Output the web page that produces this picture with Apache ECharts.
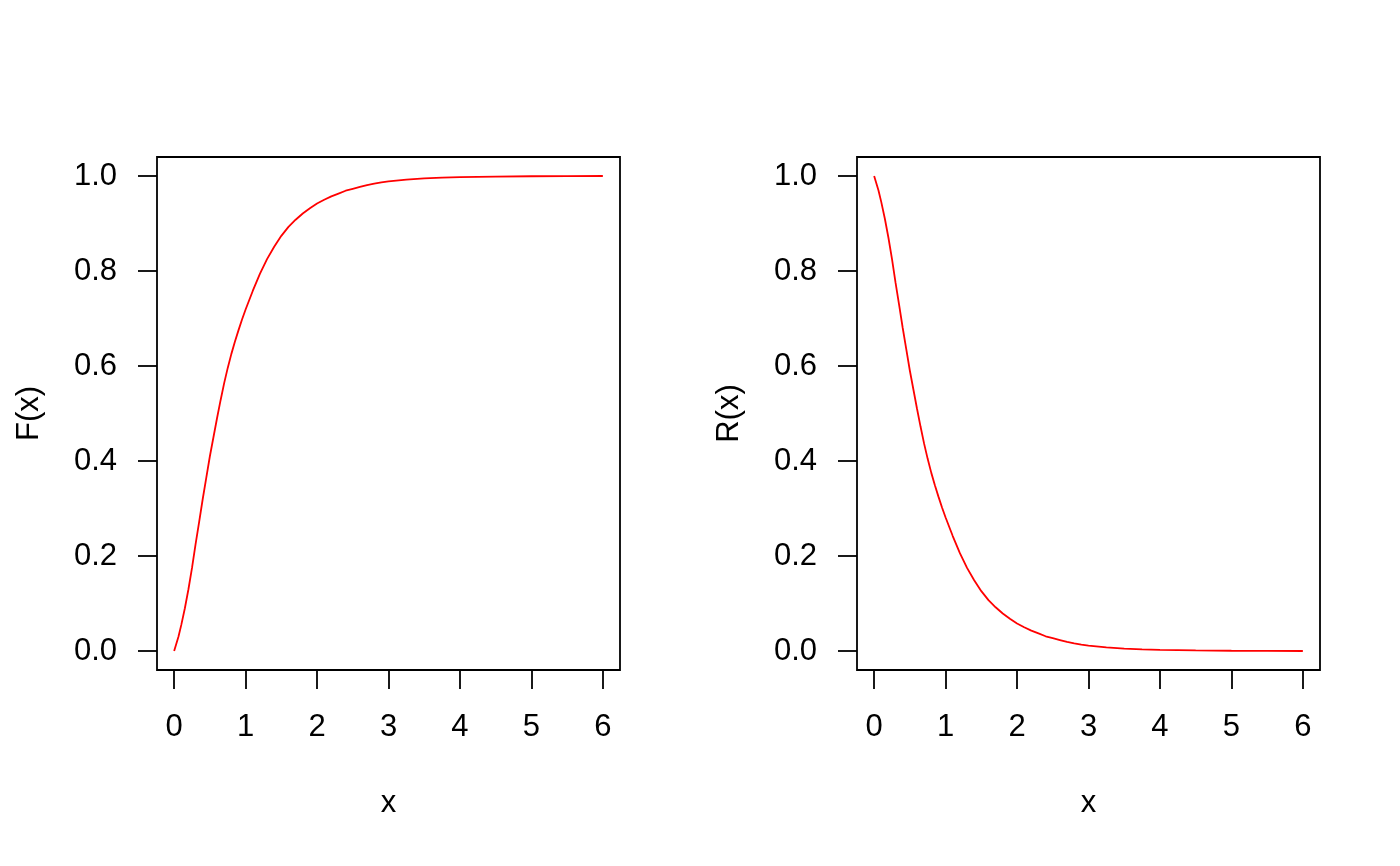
<!DOCTYPE html>
<html>
<head>
<meta charset="utf-8">
<script src="https://cdn.jsdelivr.net/npm/echarts@6/dist/echarts.min.js"></script>
<style>
html,body{margin:0;padding:0;background:#fff;}
#chart{width:1400px;height:866px;}
</style>
</head>
<body>
<div id="chart"></div>
<script>
// x positions
const xValues = [0, 0.06, 0.1, 0.15, 0.2, 0.25, 0.3, 0.35, 0.4, 0.45, 0.5, 0.55, 0.6, 0.65, 0.7, 0.75, 0.8, 0.85, 0.9, 0.95,
  1.0, 1.1, 1.2, 1.3, 1.4, 1.5, 1.6, 1.7, 1.8, 1.9, 2.0, 2.1, 2.2, 2.3, 2.4, 2.5, 2.6, 2.7, 2.8, 2.9,
  3.0, 3.25, 3.5, 3.75, 4.0, 4.5, 5.0, 5.5, 6.0];
// left panel: F(x)
const cdfValues = [0, 0.03, 0.055, 0.09, 0.13, 0.175, 0.225, 0.272, 0.32, 0.365, 0.41, 0.45, 0.49, 0.528, 0.564, 0.596, 0.625, 0.651, 0.675, 0.698,
  0.719, 0.758, 0.794, 0.825, 0.851, 0.874, 0.893, 0.908, 0.921, 0.932, 0.942, 0.95, 0.957, 0.963, 0.969, 0.973, 0.977, 0.981, 0.984, 0.9865,
  0.9885, 0.9925, 0.995, 0.9965, 0.9975, 0.9988, 0.9995, 0.9998, 1.0];
// right panel: R(x)
const relValues = [1, 0.97, 0.945, 0.91, 0.87, 0.825, 0.775, 0.728, 0.68, 0.635, 0.59, 0.55, 0.51, 0.472, 0.436, 0.404, 0.375, 0.349, 0.325, 0.302,
  0.281, 0.242, 0.206, 0.175, 0.149, 0.126, 0.107, 0.092, 0.079, 0.068, 0.058, 0.05, 0.043, 0.037, 0.031, 0.027, 0.023, 0.019, 0.016, 0.0135,
  0.0115, 0.0075, 0.005, 0.0035, 0.0025, 0.0012, 0.0005, 0.0002, 0.0];
const xTicks = [0, 1, 2, 3, 4, 5, 6];
const yTicks = [0, 0.2, 0.4, 0.6, 0.8, 1.0];
const xName = 'x';
const yNames = ['F(x)', 'R(x)'];

const FONT = '"Liberation Sans", Arial, Helvetica, sans-serif';
const FS = 31;

function pairs(xs, ys) { return xs.map((x, i) => [x, ys[i]]); }

const grids = [
  {left: 157, top: 157, width: 463, height: 513},
  {left: 857, top: 157, width: 463, height: 513}
].map(g => Object.assign({show: true, borderColor: '#000', borderWidth: 1.8, backgroundColor: 'transparent'}, g));

function xAxisFor(i) {
  return {
    type: 'value', gridIndex: i, min: -0.24, max: 6.24, position: 'bottom',
    splitLine: {show: false},
    axisLine: {show: false, onZero: false},
    axisTick: {show: true, customValues: xTicks, length: 19, inside: false, lineStyle: {color: '#000', width: 1.8}},
    axisLabel: {show: true, customValues: xTicks, margin: 42, color: '#000', fontFamily: FONT, fontSize: FS,
      formatter: v => String(Math.round(v))},
    name: xName, nameLocation: 'middle', nameGap: 118,
    nameTextStyle: {color: '#000', fontFamily: FONT, fontSize: FS}
  };
}
function yAxisFor(i) {
  return {
    type: 'value', gridIndex: i, min: -0.04, max: 1.04, position: 'left',
    splitLine: {show: false},
    axisLine: {show: false, onZero: false},
    axisTick: {show: true, customValues: yTicks, length: 19, inside: false, lineStyle: {color: '#000', width: 1.8}},
    axisLabel: {show: true, customValues: yTicks, margin: 40, color: '#000', fontFamily: FONT, fontSize: FS,
      formatter: v => v.toFixed(1)},
    name: yNames[i], nameLocation: 'middle', nameGap: 112,
    nameTextStyle: {color: '#000', fontFamily: FONT, fontSize: FS}
  };
}

const chart = echarts.init(document.getElementById('chart'), null, {renderer: 'canvas'});
chart.setOption({
  backgroundColor: '#fff',
  animation: false,
  grid: grids,
  xAxis: [xAxisFor(0), xAxisFor(1)],
  yAxis: [yAxisFor(0), yAxisFor(1)],
  series: [
    {type: 'line', xAxisIndex: 0, yAxisIndex: 0, data: pairs(xValues, cdfValues), showSymbol: false,
      lineStyle: {color: '#ff0000', width: 1.8}, itemStyle: {color: '#ff0000'}},
    {type: 'line', xAxisIndex: 1, yAxisIndex: 1, data: pairs(xValues, relValues), showSymbol: false,
      lineStyle: {color: '#ff0000', width: 1.8}, itemStyle: {color: '#ff0000'}}
  ]
});
</script>
</body>
</html>
